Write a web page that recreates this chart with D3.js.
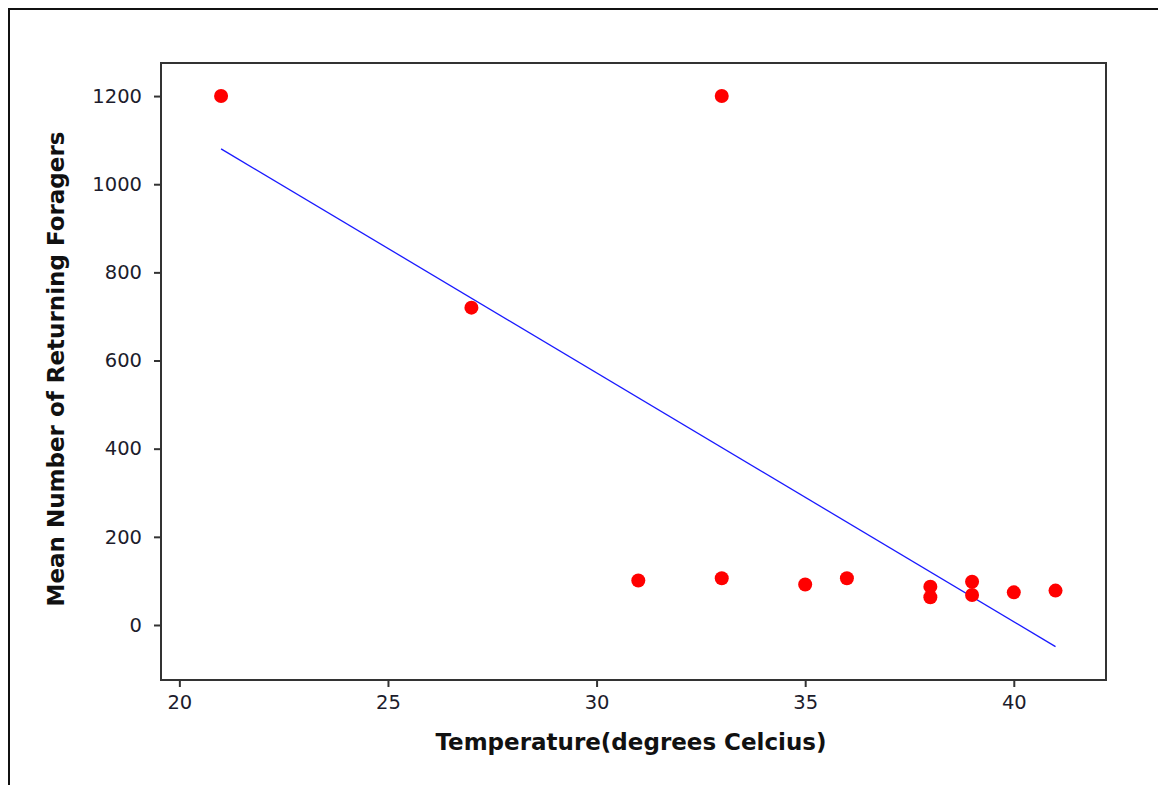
<!DOCTYPE html>
<html>
<head>
<meta charset="utf-8">
<script src="https://cdn.jsdelivr.net/npm/d3@7"></script>
<style>
  body { margin: 0; background: #fff; }
  svg { display: block; }
</style>
</head>
<body>
<div id="chart"></div>
<script>
const TEMPERATURE = [21, 33, 27, 31, 33, 35, 36, 38, 38, 39, 39, 40, 41];
const FORAGERS = [1200, 1200, 720, 101, 106, 92, 106, 87, 63, 98, 68, 74, 78];
const X_TICKS = [20, 25, 30, 35, 40];
const Y_TICKS = [0, 200, 400, 600, 800, 1000, 1200];

const W = 1158, H = 785;
const PLOT = { left: 161, top: 63, right: 1106, bottom: 680 };

const svg = d3.select("#chart")
    .append("svg")
        .attr("width", W)
        .attr("height", H);

// outer frame
svg.append("rect")
    .attr("x", 9).attr("y", 9)
    .attr("width", W + 20).attr("height", H + 20)
    .attr("fill", "none")
    .attr("stroke", "#111")
    .attr("stroke-width", 2);

const x = d3.scaleLinear()
    .domain([19.56, 42.21])
    .range([PLOT.left, PLOT.right]);

const y = d3.scaleLinear()
    .domain([-124.8, 1275])
    .range([PLOT.bottom, PLOT.top]);

// plot box
svg.append("rect")
    .attr("x", PLOT.left).attr("y", PLOT.top)
    .attr("width", PLOT.right - PLOT.left)
    .attr("height", PLOT.bottom - PLOT.top)
    .attr("fill", "none")
    .attr("stroke", "#333")
    .attr("stroke-width", 2);

// AXES
const xAxis = svg.append("g")
    .attr("transform", `translate(0, ${PLOT.bottom})`)
    .call(d3.axisBottom(x).tickValues(X_TICKS).tickFormat(d3.format("d"))
        .tickSize(7).tickPadding(8));
const yAxis = svg.append("g")
    .attr("transform", `translate(${PLOT.left}, 0)`)
    .call(d3.axisLeft(y).tickValues(Y_TICKS).tickFormat(d3.format("d"))
        .tickSize(7).tickPadding(12));

[xAxis, yAxis].forEach(g => {
    g.select(".domain").remove();
    g.selectAll(".tick line").attr("stroke", "#333").attr("stroke-width", 2);
    g.selectAll(".tick text")
        .attr("fill", "#1c1c2c")
        .style("font-family", "'DejaVu Sans', sans-serif")
        .style("font-size", "19.5px");
});

svg.append("text")
    .attr("x", 631)
    .attr("y", 750)
    .attr("text-anchor", "middle")
    .style("font-family", "'DejaVu Sans', sans-serif")
    .style("font-weight", "bold")
    .style("font-size", "23px")
    .attr("fill", "#111")
    .text("Temperature(degrees Celcius)");

svg.append("text")
    .attr("transform", "translate(64, 369) rotate(-90)")
    .attr("text-anchor", "middle")
    .style("font-family", "'DejaVu Sans', sans-serif")
    .style("font-weight", "bold")
    .style("font-size", "23px")
    .attr("fill", "#111")
    .text("Mean Number of Returning Foragers");

// FIT LINE (least squares over the points)
const mx = d3.mean(TEMPERATURE), my = d3.mean(FORAGERS);
const sxy = d3.sum(TEMPERATURE, (t, i) => (t - mx) * (FORAGERS[i] - my));
const sxx = d3.sum(TEMPERATURE, t => (t - mx) * (t - mx));
const slope = sxy / sxx, intercept = my - slope * mx;
const ends = d3.extent(TEMPERATURE);

svg.append("line")
    .attr("x1", x(ends[0])).attr("y1", y(intercept + slope * ends[0]))
    .attr("x2", x(ends[1])).attr("y2", y(intercept + slope * ends[1]))
    .attr("stroke", "#1a1aff")
    .attr("stroke-width", 1.3);

// POINTS
svg.selectAll("circle.pt")
    .data(TEMPERATURE)
    .enter()
    .append("circle")
        .attr("class", "pt")
        .attr("cx", t => x(t))
        .attr("cy", (t, i) => y(FORAGERS[i]))
        .attr("r", 7)
        .attr("fill", "#ff0000");
</script>
</body>
</html>
